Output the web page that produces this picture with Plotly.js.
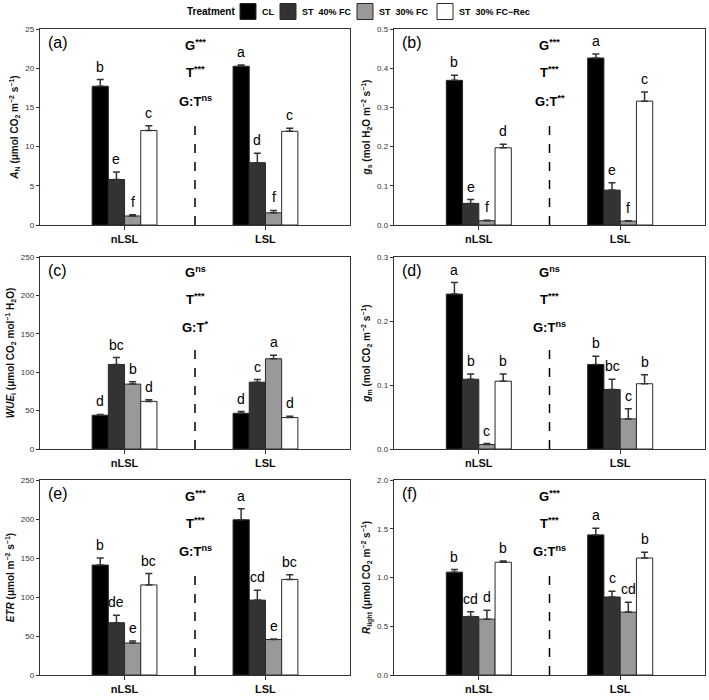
<!DOCTYPE html>
<html><head><meta charset="utf-8">
<script src="https://cdn.plot.ly/plotly-3.0.1.min.js"></script>
<style>body{margin:0;padding:0;background:#fff}#chart{width:709px;height:700px}</style>
</head><body><div id="chart"></div>
<script>
const categories = ['nLSL', 'LSL'];
const treatments = ['CL', 'ST\u00a0\u00a040% FC', 'ST\u00a0\u00a030% FC', 'ST\u00a0\u00a030% FC\u2212Rec'];
const colors = ['#000000', '#333333', '#999999', '#ffffff'];

// values per treatment: [nLSL, LSL]
const AN_mean = [[17.7, 20.25], [5.8, 7.95], [1.15, 1.55], [12.05, 11.95]];
const AN_err  = [[0.85, 0.17], [0.95, 1.2], [0.15, 0.3], [0.6, 0.4]];
const AN_let  = [['b', 'a'], ['e', 'd'], ['f', 'f'], ['c', 'c']];

const gs_mean = [[0.369, 0.426], [0.055, 0.089], [0.011, 0.010], [0.197, 0.316]];
const gs_err  = [[0.013, 0.010], [0.010, 0.019], [0.001, 0.001], [0.009, 0.023]];
const gs_let  = [['b', 'a'], ['e', 'e'], ['f', 'f'], ['d', 'c']];

const WUE_mean = [[44, 46.5], [110, 87], [84.5, 117.5], [62, 41]];
const WUE_err  = [[1, 2.2], [9, 3.5], [3, 4.5], [2, 1.7]];
const WUE_let  = [['d', 'd'], ['bc', 'c'], ['b', 'a'], ['d', 'd']];

const gm_mean = [[0.242, 0.132], [0.109, 0.093], [0.007, 0.047], [0.106, 0.102]];
const gm_err  = [[0.018, 0.013], [0.008, 0.016], [0.0015, 0.016], [0.011, 0.014]];
const gm_let  = [['a', 'b'], ['b', 'bc'], ['c', 'c'], ['b', 'b']];

const ETR_mean = [[141, 199], [67, 96], [41, 45.5], [115.5, 122.5]];
const ETR_err  = [[9, 14], [9.5, 12.5], [2.5, 0.5], [14.5, 6]];
const ETR_let  = [['b', 'a'], ['de', 'cd'], ['e', 'e'], ['bc', 'bc']];

const R_mean = [[1.055, 1.437], [0.60, 0.80], [0.573, 0.645], [1.157, 1.20]];
const R_err  = [[0.027, 0.068], [0.05, 0.058], [0.09, 0.1], [0.013, 0.06]];
const R_let  = [['b', 'a'], ['cd', 'c'], ['d', 'cd'], ['b', 'b']];

const panelLabels = ['(a)', '(b)', '(c)', '(d)', '(e)', '(f)'];
const statsG  = ['***', '***', 'ns', 'ns', '***', '***'];
const statsT  = ['***', '***', '***', '***', '***', '***'];
const statsGT = ['ns', '**', '*', 'ns', 'ns', 'ns'];
const yMax  = [25, 0.5, 250, 0.3, 250, 2];
const yStep = [5, 0.1, 50, 0.1, 50, 0.5];
const yTitles = [
  '<b><i>A</i><sub>N</sub> (\u03bcmol CO<sub>2</sub> m<sup>\u22122</sup> s<sup>\u22121</sup>)</b>',
  '<b><i>g</i><sub>s</sub> (mol H<sub>2</sub>O m<sup>\u22122</sup> s<sup>\u22121</sup>)</b>',
  '<b><i>WUE</i><sub>i</sub> (\u03bcmol CO<sub>2</sub> mol<sup>\u22121</sup> H<sub>2</sub>O)</b>',
  '<b><i>g</i><sub>m</sub> (mol CO<sub>2</sub> m<sup>\u22122</sup> s<sup>\u22121</sup>)</b>',
  '<b><i>ETR</i> (\u03bcmol m<sup>\u22122</sup> s<sup>\u22121</sup>)</b>',
  '<b><i>R</i><sub>light</sub> (\u03bcmol CO<sub>2</sub> m<sup>\u22122</sup> s<sup>\u22121</sup>)</b>'
];

const panels = [
  [AN_mean, AN_err, AN_let], [gs_mean, gs_err, gs_let],
  [WUE_mean, WUE_err, WUE_let], [gm_mean, gm_err, gm_let],
  [ETR_mean, ETR_err, ETR_let], [R_mean, R_err, R_let]
];

const FONT = 'Liberation Sans, Arial, sans-serif';
const W = 709, H = 700;
const bargap = 0.54;
const groupW = 1 - bargap;
const barW = groupW / 4;
const xDom = [[40/W, 350/W], [394/W, 705/W]];
const yDom = [[1-225/H, 1-29/H], [1-449/H, 1-257/H], [1-675/H, 1-480/H]];

const data = [];
const annotations = [];
const shapes = [];
const layout = {
  width: W, height: H,
  margin: {l: 0, r: 0, t: 0, b: 0},
  paper_bgcolor: '#fff', plot_bgcolor: '#fff',
  font: {family: FONT, color: '#000'},
  barmode: 'group', bargap: bargap, bargroupgap: 0,
  showlegend: false
};

// legend drawn as a key row at the top
const legendSwatchX = [240, 280, 357, 437];
const legendY = 11.5, sw = 16;
annotations.push({
  xref: 'paper', yref: 'paper', x: 185/W, y: 1 - legendY/H, xanchor: 'left', yanchor: 'middle',
  text: '<b>Treatment</b>', showarrow: false, font: {size: 10, family: FONT, color: '#000'}
});
treatments.forEach((t, k) => {
  const x0 = legendSwatchX[k];
  shapes.push({
    type: 'rect', xref: 'paper', yref: 'paper',
    x0: x0/W, x1: (x0 + sw)/W, y0: 1 - (legendY + sw/2)/H, y1: 1 - (legendY - sw/2)/H,
    fillcolor: colors[k], line: {color: '#2a2a2a', width: 1}
  });
  annotations.push({
    xref: 'paper', yref: 'paper', x: (x0 + sw + 4)/W, y: 1 - legendY/H,
    xanchor: 'left', yanchor: 'middle', text: '<b>' + t + '</b>', showarrow: false,
    font: {size: 9, family: FONT, color: '#000'}
  });
});

panels.forEach((p, i) => {
  const [mean, err, lets] = p;
  const n = i + 1;
  const xa = 'x' + (n === 1 ? '' : n);
  const ya = 'y' + (n === 1 ? '' : n);
  const col = i % 2, row = Math.floor(i / 2);
  treatments.forEach((t, k) => {
    data.push({
      type: 'bar', x: [0, 1], y: mean[k], name: t,
      xaxis: xa, yaxis: ya,
      marker: {color: colors[k], line: {color: '#2a2a2a', width: 1}},
      error_y: {type: 'data', symmetric: false, array: err[k], arrayminus: [0, 0],
                color: '#333', thickness: 1.5, width: 3.5},
      hoverinfo: 'skip'
    });
    [0, 1].forEach(g => {
      annotations.push({
        xref: xa, yref: ya, x: g - groupW/2 + barW*(k + 0.5), y: mean[k][g] + err[k][g],
        text: lets[k][g], showarrow: false, yanchor: 'bottom', yshift: 3,
        font: {size: 14, family: FONT, color: '#000'}
      });
    });
  });
  const axKey = n === 1 ? '' : n;
  layout['xaxis' + axKey] = {
    domain: xDom[col], anchor: ya, range: [-0.6, 1.6],
    tickvals: [0, 1], ticktext: categories.map(c => '<b>' + c + '</b>'),
    ticks: 'outside', ticklen: 4, tickwidth: 1.2, tickcolor: '#333',
    showline: true, linecolor: '#333', linewidth: 1.2, mirror: true,
    showgrid: false, zeroline: false, fixedrange: true,
    tickfont: {size: 11, family: FONT, color: '#111'}
  };
  layout['yaxis' + axKey] = {
    domain: yDom[row], anchor: xa, range: [0, yMax[i]], dtick: yStep[i], tick0: 0,
    tickformat: yStep[i] < 1 ? '.1f' : 'd',
    ticks: 'outside', ticklen: 3, tickwidth: 1, tickcolor: '#333',
    showline: true, linecolor: '#333', linewidth: 1.2, mirror: true,
    showgrid: false, zeroline: false, fixedrange: true,
    tickfont: {size: 8, family: FONT, color: '#333'},
    title: {text: yTitles[i], font: {size: 10, family: FONT, color: '#111'}, standoff: 4}
  };
  annotations.push({
    xref: xa + ' domain', yref: ya + ' domain', x: 0.02, y: 0.985,
    xanchor: 'left', yanchor: 'top', text: panelLabels[i], showarrow: false,
    font: {size: 16, family: FONT, color: '#000'}
  });
  const stats = ['<b>G<sup>' + statsG[i] + '</sup></b>', '<b>T<sup>' + statsT[i] + '</sup></b>',
                 '<b>G:T<sup>' + statsGT[i] + '</sup></b>'];
  const sy = [0.92, 0.78, 0.635];
  stats.forEach((s, j) => {
    annotations.push({
      xref: xa, yref: ya + ' domain', x: 0.5, y: sy[j], text: s, showarrow: false,
      xanchor: 'center', yanchor: 'middle', font: {size: 13, family: FONT, color: '#000'}
    });
  });
  shapes.push({
    type: 'line', xref: xa, yref: ya + ' domain', x0: 0.5, x1: 0.5, y0: 0, y1: 0.54,
    line: {color: '#000', width: 1.5, dash: 'dash'}
  });
});

layout.annotations = annotations;
layout.shapes = shapes;
Plotly.newPlot('chart', data, layout, {staticPlot: true, displayModeBar: false});
</script>
</body></html>
